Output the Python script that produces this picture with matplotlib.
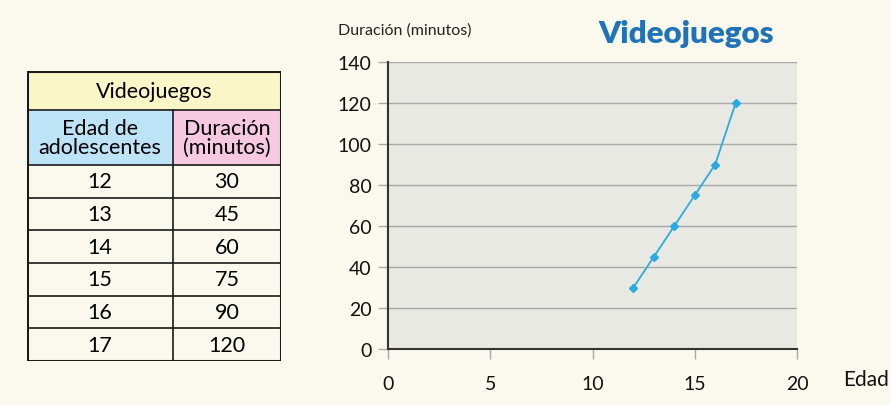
import matplotlib.pyplot as plt
from matplotlib.patches import Rectangle

edades = [12, 13, 14, 15, 16, 17]
duracion = [30, 45, 60, 75, 90, 120]
x_ticks = [0, 5, 10, 15, 20]
y_ticks = [0, 20, 40, 60, 80, 100, 120, 140]

W, H = 891, 406
bg = '#fbf9ee'
font = 'Lato'

fig = plt.figure(figsize=(W / 100, H / 100), dpi=100, facecolor=bg)


def fig_box(x0, y0, x1, y1):
    # pixel box (top-left origin) -> figure fraction rect
    return [x0 / W, 1 - y1 / H, (x1 - x0) / W, (y1 - y0) / H]


# ---- chart ----
ax = fig.add_axes(fig_box(388, 63, 797, 350))
ax.set_facecolor('#e9e9e3')
ax.plot(edades, duracion, color='#29abe2', lw=1.3, marker='D', ms=4.5, zorder=3)
ax.set_xlim(0, 20)
ax.set_ylim(0, 140)
ax.set_xticks(x_ticks)
ax.set_yticks(y_ticks)
ax.grid(axis='y', color='#a8a8a8', lw=1)
ax.set_axisbelow(True)
for s in ['top', 'right']:
    ax.spines[s].set_visible(False)
for s in ['left', 'bottom']:
    ax.spines[s].set_color('#333333')
    ax.spines[s].set_linewidth(1.5)
ax.tick_params(axis='y', length=7, width=1, color='#a8a8a8', pad=5, labelsize=14)
ax.tick_params(axis='x', length=7, width=1, color='#a8a8a8', pad=12, labelsize=14)
for lab in ax.get_xticklabels() + ax.get_yticklabels():
    lab.set_family(font)
    lab.set_color('#111111')

fig.text(338 / W, 1 - 31 / H, 'Duración (minutos)', fontsize=11.5, family=font, va='center', ha='left', color='#222222')
fig.text(686 / W, 1 - 34 / H, 'Videojuegos', fontsize=22.5, family=font, weight='heavy', va='center', ha='center', color='#1f74b9')
fig.text(843 / W, 1 - 380 / H, 'Edad', fontsize=15, family=font, va='center', ha='left', color='#111111')

# ---- table ----
tx0, ty0, tx1, ty1 = 27, 72, 281, 362
tab = fig.add_axes(fig_box(tx0, ty0, tx1, ty1))
tab.set_xlim(tx0, tx1)
tab.set_ylim(ty1, ty0)
tab.axis('off')

col_split = 173
title_bottom = 111
header_bottom = 166
row_h = (ty1 - header_bottom) / len(edades)

tab.add_patch(Rectangle((tx0, ty0), tx1 - tx0, title_bottom - ty0, facecolor='#fbf6c8', edgecolor='none'))
tab.add_patch(Rectangle((tx0, title_bottom), col_split - tx0, header_bottom - title_bottom, facecolor='#bde3f7', edgecolor='none'))
tab.add_patch(Rectangle((col_split, title_bottom), tx1 - col_split, header_bottom - title_bottom, facecolor='#f7c9e0', edgecolor='none'))
tab.add_patch(Rectangle((tx0, header_bottom), tx1 - tx0, ty1 - header_bottom, facecolor='#fbf9ee', edgecolor='none'))

lc = '#1a1a1a'
for y in [title_bottom, header_bottom] + [header_bottom + i * row_h for i in range(1, len(edades))]:
    tab.plot([tx0, tx1], [y, y], color=lc, lw=1.2)
tab.plot([col_split, col_split], [title_bottom, ty1], color=lc, lw=1.2)
tab.add_patch(Rectangle((tx0, ty0), tx1 - tx0, ty1 - ty0, facecolor='none', edgecolor=lc, lw=2.2))

fs = 15.5
tab.text((tx0 + tx1) / 2, (ty0 + title_bottom) / 2, 'Videojuegos', fontsize=fs, family=font, ha='center', va='center')
tab.text((tx0 + col_split) / 2, (title_bottom + header_bottom) / 2, 'Edad de\nadolescentes', fontsize=fs, family=font,
         ha='center', va='center', linespacing=0.95)
tab.text((col_split + tx1) / 2, (title_bottom + header_bottom) / 2, 'Duración\n(minutos)', fontsize=fs, family=font,
         ha='center', va='center', linespacing=0.95)
for i, (e, d) in enumerate(zip(edades, duracion)):
    yc = header_bottom + (i + 0.5) * row_h
    tab.text((tx0 + col_split) / 2, yc, str(e), fontsize=fs, family=font, ha='center', va='center')
    tab.text((col_split + tx1) / 2, yc, str(d), fontsize=fs, family=font, ha='center', va='center')

fig.savefig('out.png', dpi=100, facecolor=bg)
